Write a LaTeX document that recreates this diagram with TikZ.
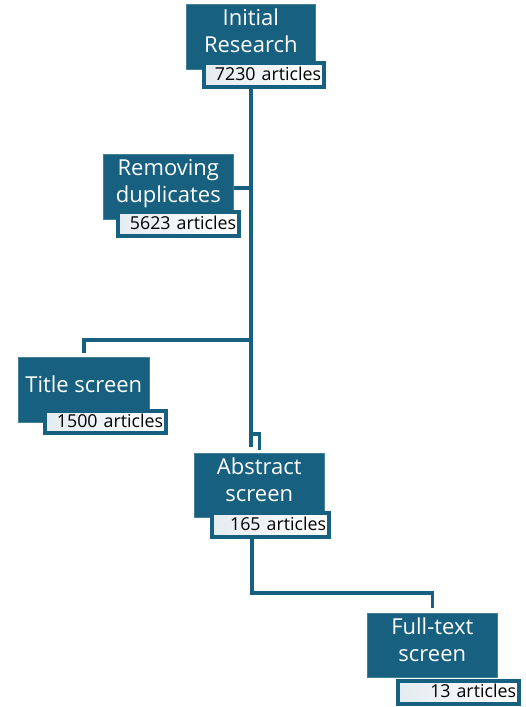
\documentclass[tikz,border=0pt]{standalone}
\usepackage{fontspec}
\setmainfont{Open Sans}
\definecolor{boxblue}{RGB}{23,96,128}
\definecolor{tint}{RGB}{228,236,240}
\newcommand\stagetext[1]{\raisebox{3pt}[\height][\depth]{\begin{tabular}{@{}c@{}}#1\end{tabular}}}
\newcommand\counttext[1]{\raisebox{1.5pt}[\height][\depth]{#1}}
\tikzset{
  stagebox/.style={anchor=north west, fill=boxblue, draw=boxblue!80!white, line width=0.6pt,
    inner sep=0pt, text=white, font=\fontsize{22}{27}\selectfont},
  countbox/.style={anchor=north west, draw=boxblue, line width=4pt, left color=tint,
    middle color=white, right color=white, inner ysep=0pt, inner xsep=3pt,
    align=right, minimum height=24pt, text=black, font=\fontsize{17.8}{20}\selectfont},
  conn/.style={draw=boxblue, line width=3.5pt}
}
\begin{document}
\begin{tikzpicture}[x=1pt,y=-1pt]
\useasboundingbox (0,0) rectangle (526,707);
% stages
\node[stagebox, minimum width=129pt, minimum height=65pt] (init) at (186,4) {\stagetext{Initial\\Research}};
\node[countbox, text width=114pt] (initlab) at (202,61) {\counttext{7230 articles}};
\node[stagebox, minimum width=130pt, minimum height=65pt] (remove) at (103,154) {\stagetext{Removing\\duplicates}};
\node[countbox, text width=115pt] (removelab) at (116,210) {\counttext{5623 articles}};
\node[stagebox, minimum width=131pt, minimum height=65pt] (title) at (18,357) {\stagetext{Title screen}};
\node[countbox, text width=115pt, minimum height=22pt] (titlelab) at (43,409) {\counttext{1500 articles}};
\node[stagebox, minimum width=130pt, minimum height=64pt] (abstract) at (194,453) {\stagetext{Abstract\\screen}};
\node[countbox, text width=111pt] (abstractlab) at (210,511) {\counttext{165 articles}};
\node[stagebox, minimum width=130pt, minimum height=64pt] (full) at (367,613) {\stagetext{Full-text\\screen}};
\node[countbox, text width=115pt, minimum height=23pt] (fulllab) at (396,679) {\counttext{13 articles}};
% spine coordinates
\coordinate (s0) at (251,85);
\coordinate (s1) at (251,188);
\coordinate (s2) at (251,340);
\coordinate (s3) at (251,434);
\coordinate (send) at (251,447);
\coordinate (a0) at (252,535);
\coordinate (a1) at (252,593);
% connectors
\draw[conn] (s0) -- (send);
\draw[conn] (remove.east |- s1) -- (s1);
\draw[conn] (s2) -| ([yshift=4pt]title.north);
\draw[conn] (s3) -| ([yshift=3pt]abstract.north);
\draw[conn] (a0) -- (a1) -| ([yshift=5pt]full.north);
\end{tikzpicture}
\end{document}
